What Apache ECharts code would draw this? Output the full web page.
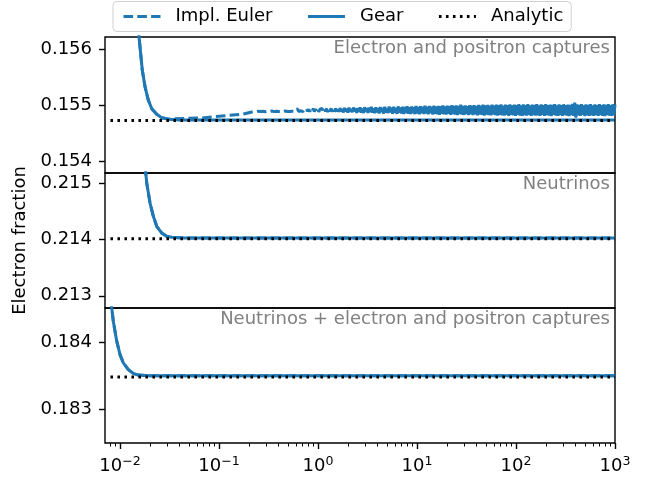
<!DOCTYPE html>
<html><head><meta charset="utf-8">
<script src="https://cdn.jsdelivr.net/npm/echarts@6/dist/echarts.min.js"></script>
<style>html,body{margin:0;padding:0;background:#fff}#c{width:653px;height:478px}</style>
</head><body><div id="c"></div>
<script>
// ---------- data ----------
const seriesNames = ['Impl. Euler', 'Gear', 'Analytic'];
const panelTitles = ['Electron and positron captures', 'Neutrinos', 'Neutrinos + electron and positron captures'];
const yAxisTitle = 'Electron fraction';

const xTickValues = [0.01, 0.1, 1, 10, 100, 1000];
const xTickExponents = ['\u22122', '\u22121', '0', '1', '2', '3'];
const yTicksTop = [0.154, 0.155, 0.156];
const yTicksMid = [0.213, 0.214, 0.215];
const yTicksBot = [0.183, 0.184];

// top panel (electron and positron captures)
const topGearT = [0.01486, 0.01556, 0.01679, 0.01790, 0.01932, 0.02091, 0.02349, 0.02637, 0.03076, 0.04, 1000];
const topGearY = [0.15665, 0.156215, 0.155623, 0.155326, 0.155089, 0.154940, 0.154840, 0.154779, 0.154751, 0.154736, 0.154736];
const topEulerT = [0.01486, 0.01556, 0.01679, 0.01790, 0.01932, 0.02091, 0.02349, 0.02637, 0.03076, 0.03594, 0.06688, 0.11497, 0.16954, 0.215];
const topEulerY = [0.15665, 0.156215, 0.155623, 0.155326, 0.155089, 0.154940, 0.154840, 0.154779, 0.154755, 0.154762, 0.154774, 0.154815, 0.154840, 0.154880];
// noisy part of the implicit Euler run, sampled (log-uniform) from t = 0.25 to t = 1000
const topEulerNoiseStart = 0.25;
const topEulerNoiseEnd = 1000;
const topEulerNoiseY = [
  0.154895, 0.154910, 0.154888, 0.154913, 0.154892, 0.154906, 0.154886, 0.154915, 0.154897, 0.154911, 0.154890, 0.154918, 0.154899, 0.154909, 0.154887, 0.154916,
  0.154894, 0.154912, 0.154889, 0.154919, 0.154896, 0.154914, 0.154885, 0.154917, 0.154899, 0.154921, 0.154891, 0.154913, 0.154888, 0.154920, 0.154895, 0.154918,
  0.154892, 0.154928, 0.154897, 0.154933, 0.154890, 0.154925, 0.154902, 0.154937, 0.154887, 0.154930, 0.154895, 0.154939, 0.154891, 0.154928, 0.154885, 0.154935,
  0.154899, 0.154941, 0.154888, 0.154932, 0.154893, 0.154936, 0.154884, 0.154929, 0.154897, 0.154943, 0.154886, 0.154934, 0.154890, 0.154940, 0.154882, 0.154931,
  0.154894, 0.154945, 0.154885, 0.154937, 0.154880, 0.154942, 0.154889, 0.154946,
  0.154878, 0.154950, 0.154890, 0.154936, 0.154872, 0.154952, 0.154893, 0.154940, 0.154868, 0.154957, 0.154884, 0.154933, 0.154877, 0.154961, 0.154888, 0.154944,
  0.154866, 0.154949, 0.154882, 0.154962, 0.154870, 0.154941, 0.154861, 0.154966, 0.154884, 0.154950, 0.154864, 0.154958, 0.154879, 0.154971, 0.154870, 0.154945,
  0.154858, 0.154964, 0.154876, 0.154952, 0.154856, 0.154970, 0.154880, 0.154956, 0.154852, 0.154975, 0.154870, 0.154949, 0.154861, 0.154979, 0.154874, 0.154960,
  0.154851, 0.154972, 0.154868, 0.154958, 0.154847, 0.154981, 0.154866, 0.154962, 0.154856, 0.154976, 0.154843, 0.154968, 0.154862, 0.154985, 0.154850, 0.154966,
  0.154845, 0.154979, 0.154860, 0.154969, 0.154842, 0.154988, 0.154855, 0.154970, 0.154838, 0.154983, 0.154858, 0.154975, 0.154846, 0.154992, 0.154852, 0.154973,
  0.154839, 0.154986, 0.154856, 0.154976, 0.154835, 0.154994, 0.154849, 0.154979, 0.154842, 0.154990, 0.154831, 0.154983, 0.154851, 0.154997, 0.154838, 0.154981,
  0.154834, 0.154993, 0.154847, 0.154982, 0.154829, 0.155000, 0.154844, 0.154987, 0.154836, 0.154996, 0.154826, 0.154989, 0.154845, 0.155012, 0.154833, 0.154990,
  0.154828, 0.154998, 0.154843, 0.154986, 0.154824, 0.155003, 0.154839, 0.154992,
  0.154826, 0.155001, 0.154840, 0.154990, 0.154821, 0.155008, 0.154836, 0.154994, 0.154829, 0.155010, 0.154818, 0.154997, 0.154834, 0.155006, 0.154824, 0.154992,
  0.154819, 0.155011, 0.154835, 0.154996, 0.154826, 0.155013, 0.154815, 0.155000, 0.154832, 0.155015, 0.154822, 0.154994, 0.154817, 0.155012, 0.154830, 0.155002,
  0.154814, 0.155017, 0.154828, 0.154998, 0.154820, 0.155010, 0.154812, 0.155004, 0.154831, 0.155019, 0.154818, 0.154996, 0.154813, 0.155014, 0.154827, 0.155001,
  0.154816, 0.155018, 0.154830, 0.154999, 0.154811, 0.155011, 0.154825, 0.155006, 0.154817, 0.155021, 0.154822, 0.154997, 0.154810, 0.155015, 0.154828, 0.155003,
  0.154813, 0.155019, 0.154826, 0.155000, 0.154818, 0.155012, 0.154809, 0.155008, 0.154829, 0.155022, 0.154815, 0.154998, 0.154812, 0.155016, 0.154824, 0.155004,
  0.154811, 0.155018, 0.154827, 0.155001, 0.154815, 0.155013, 0.154808, 0.155009, 0.154826, 0.155023, 0.154814, 0.155047, 0.154780, 0.155014, 0.154822, 0.155005,
  0.154812, 0.155019, 0.154828, 0.155000, 0.154809, 0.155015, 0.154823, 0.155007, 0.154814, 0.155022, 0.154820, 0.154999, 0.154810, 0.155017, 0.154826, 0.155004,
  0.154811, 0.155020, 0.154825, 0.155002, 0.154812, 0.155016, 0.154808, 0.155008, 0.154827, 0.155021, 0.154815, 0.155000, 0.154811, 0.155018, 0.154823, 0.155012
];
const topAnalyticT = [0.008, 1000];
const topAnalyticY = [0.154728, 0.154728];

// middle panel (neutrinos)
const midGearT = [0.01748, 0.01818, 0.01861, 0.02009, 0.02170, 0.02348, 0.02637, 0.02962, 0.03328, 0.045, 1000];
const midGearY = [0.21555, 0.215181, 0.215004, 0.214648, 0.214412, 0.214234, 0.214115, 0.214057, 0.214039, 0.214025, 0.214025];
const midEulerT = midGearT;
const midEulerY = midGearY;
const midAnalyticT = [0.008, 1000];
const midAnalyticY = [0.214015, 0.214015];

// bottom panel (neutrinos + captures)
const botGearT = [0.008018, 0.008245, 0.008555, 0.009262, 0.01, 0.010797, 0.012130, 0.013625, 0.015302, 0.02, 1000];
const botGearY = [0.18465, 0.184507, 0.184310, 0.184015, 0.183817, 0.183694, 0.183595, 0.183536, 0.183513, 0.183504, 0.183504];
const botEulerT = botGearT;
const botEulerY = botGearY;
const botAnalyticT = [0.008, 1000];
const botAnalyticY = [0.183483, 0.183483];

// ---------- chart ----------
const FONT = 'DejaVu Sans';
const FS = 18;
const BLUE = '#1f77b4';
const LW = 3;
const X_MIN = 0.00705, X_MAX = 1000;
const DENSE_FROM = 72; // where the Euler noise is so dense that the dash pattern fills in

function pairs(t, y) { return t.map((x, i) => [x, y[i]]); }
function logspace(a, b, n) {
  const la = Math.log10(a), lb = Math.log10(b), out = [];
  for (let i = 0; i < n; i++) out.push(Math.pow(10, la + (lb - la) * i / (n - 1)));
  return out;
}
const noiseT = logspace(topEulerNoiseStart, topEulerNoiseEnd, topEulerNoiseY.length);
const topEulerAT = topEulerT.concat(noiseT.slice(0, DENSE_FROM + 1));
const topEulerAY = topEulerY.concat(topEulerNoiseY.slice(0, DENSE_FROM + 1));
const topEulerBT = noiseT.slice(DENSE_FROM);
const topEulerBY = topEulerNoiseY.slice(DENSE_FROM);

const minorTicks = [];
for (let e = -3; e < 3; e++) for (let k = 2; k <= 9; k++) {
  const v = k * Math.pow(10, e);
  if (v > X_MIN && v < X_MAX) minorTicks.push(v);
}

const grids = [
  { left: 105, right: 38, top: 37, height: 136 },
  { left: 105, right: 38, top: 173, height: 135 },
  { left: 105, right: 38, top: 308, height: 135 }
].map(g => Object.assign(g, { show: true, borderColor: '#000', borderWidth: 1.4, backgroundColor: 'transparent', containLabel: false }));

const yRanges = [[0.153795, 0.156215], [0.212783, 0.215181], [0.182507, 0.184507]];
const yTicks = [yTicksTop, yTicksMid, yTicksBot];

const xAxes = [0, 1, 2].map(i => ({
  type: 'log', logBase: 10, gridIndex: i, min: X_MIN, max: X_MAX,
  show: i === 2,
  axisLine: { show: false },
  splitLine: { show: false },
  axisTick: { show: i === 2, customValues: xTickValues, length: 6, lineStyle: { color: '#000', width: 1.4 } },
  axisLabel: {
    show: i === 2, customValues: xTickValues, margin: 12,
    formatter: function (v) {
      let idx = 0, best = 1e9;
      xTickValues.forEach((tv, j) => { const d = Math.abs(Math.log10(tv) - Math.log10(v)); if (d < best) { best = d; idx = j; } });
      return '{b|10}{s|' + xTickExponents[idx] + '}';
    },
    rich: {
      b: { fontFamily: FONT, fontSize: FS, color: '#000', lineHeight: 20, verticalAlign: 'bottom' },
      s: { fontFamily: FONT, fontSize: 12.6, color: '#000', lineHeight: 11, verticalAlign: 'top' }
    }
  }
}));
xAxes.push({
  type: 'log', logBase: 10, gridIndex: 2, min: X_MIN, max: X_MAX, position: 'bottom',
  axisLine: { show: false }, splitLine: { show: false }, axisLabel: { show: false },
  axisTick: { show: true, customValues: minorTicks, length: 3.5, lineStyle: { color: '#000', width: 1.05 } }
});

const yAxes = [0, 1, 2].map(i => ({
  type: 'value', gridIndex: i, min: yRanges[i][0], max: yRanges[i][1],
  axisLine: { show: false }, splitLine: { show: false },
  axisTick: { show: true, customValues: yTicks[i], length: 6, lineStyle: { color: '#000', width: 1.4 } },
  axisLabel: { customValues: yTicks[i], margin: 13, fontFamily: FONT, fontSize: FS, color: '#000', formatter: v => v.toFixed(3) },
  name: i === 1 ? yAxisTitle : '',
  nameLocation: 'middle', nameGap: 67,
  nameTextStyle: { fontFamily: FONT, fontSize: FS, color: '#000' }
}));

const styles = {
  'Impl. Euler': { color: BLUE, width: LW, type: [9.6, 4.2] },
  'Gear': { color: BLUE, width: LW, type: 'solid' },
  'Analytic': { color: '#000', width: LW, type: [2.6, 4.4] }
};
function line(name, gi, t, y, z, typeOverride) {
  const ls = Object.assign({}, styles[name]);
  if (typeOverride) ls.type = typeOverride;
  return {
    name, type: 'line', xAxisIndex: gi, yAxisIndex: gi, data: pairs(t, y),
    symbol: 'none', showSymbol: false, clip: true, z, silent: true,
    lineStyle: ls, itemStyle: { color: styles[name].color },
    emphasis: { disabled: true }
  };
}
const series = [
  line('Impl. Euler', 0, topEulerAT, topEulerAY, 2),
  line('Impl. Euler', 0, topEulerBT, topEulerBY, 2, 'solid'),
  line('Gear', 0, topGearT, topGearY, 3),
  line('Analytic', 0, topAnalyticT, topAnalyticY, 4),
  line('Impl. Euler', 1, midEulerT, midEulerY, 2),
  line('Gear', 1, midGearT, midGearY, 3),
  line('Analytic', 1, midAnalyticT, midAnalyticY, 4),
  line('Impl. Euler', 2, botEulerT, botEulerY, 2),
  line('Gear', 2, botGearT, botGearY, 3),
  line('Analytic', 2, botAnalyticT, botAnalyticY, 4)
];

const titleY = [48.5, 184.5, 319.5];
const graphic = panelTitles.map((txt, i) => ({
  type: 'text', x: 610, y: titleY[i], z: 10, silent: true,
  style: { text: txt, fill: '#808080', font: FS + 'px "' + FONT + '"', textAlign: 'right', textVerticalAlign: 'middle' }
}));

const chart = echarts.init(document.getElementById('c'), null, { renderer: 'canvas' });
chart.setOption({
  animation: false,
  backgroundColor: '#fff',
  grid: grids,
  xAxis: xAxes,
  yAxis: yAxes,
  legend: {
    data: seriesNames, left: 113, top: 1.5, orient: 'horizontal',
    itemWidth: 37, itemHeight: 14, itemGap: 34,
    padding: [6, 8, 6, 9],
    borderColor: '#d0d0d0', borderWidth: 1, borderRadius: 4, backgroundColor: 'rgba(255,255,255,0.8)',
    lineStyle: { width: LW },
    itemStyle: { opacity: 0 },
    textStyle: { fontFamily: FONT, fontSize: FS, color: '#000', padding: [0, 0, 0, 10] },
    selectedMode: false
  },
  graphic: graphic,
  series: series
});
</script></body></html>
